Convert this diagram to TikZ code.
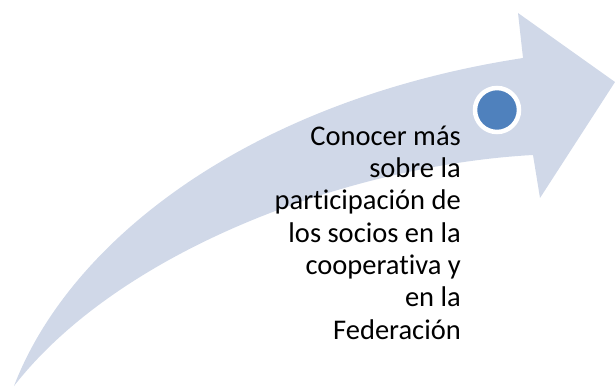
\documentclass[tikz,border=0pt]{standalone}
\usepackage{fontspec}
\setmainfont{Carlito}[Ligatures=NoCommon]
\definecolor{arrowfill}{HTML}{D0D8E8}
\definecolor{dotblue}{HTML}{4F81BD}
\tikzset{
  flecha/.style={fill=arrowfill,draw=none},
  punto/.style={circle,fill=dotblue,draw=white,line width=4.5pt,minimum size=44pt,inner sep=0pt},
  texto/.style={align=right,font=\fontsize{28.5}{32.3}\selectfont,inner sep=0pt,text=black}
}
\begin{document}
\begin{tikzpicture}[x=1pt,y=-1pt]
			\useasboundingbox (0,0) rectangle (615,387);
			% curved arrow
			\fill[flecha] (14,386) .. controls (70,240) and (250,100) .. (523,58)
				-- (518,13) -- (615,82) -- (540,198) -- (533,155)
				.. controls (350,165) and (120,250) .. (14,386) -- cycle;
			\node[punto] (dot) at (497,110) {};
			\node[texto,anchor=base east] (txt) at (461,339) {Conocer más\\sobre la\\participación de\\los socios en la\\cooperativa y\\en la\\Federación};
			\end{tikzpicture}
\end{document}
